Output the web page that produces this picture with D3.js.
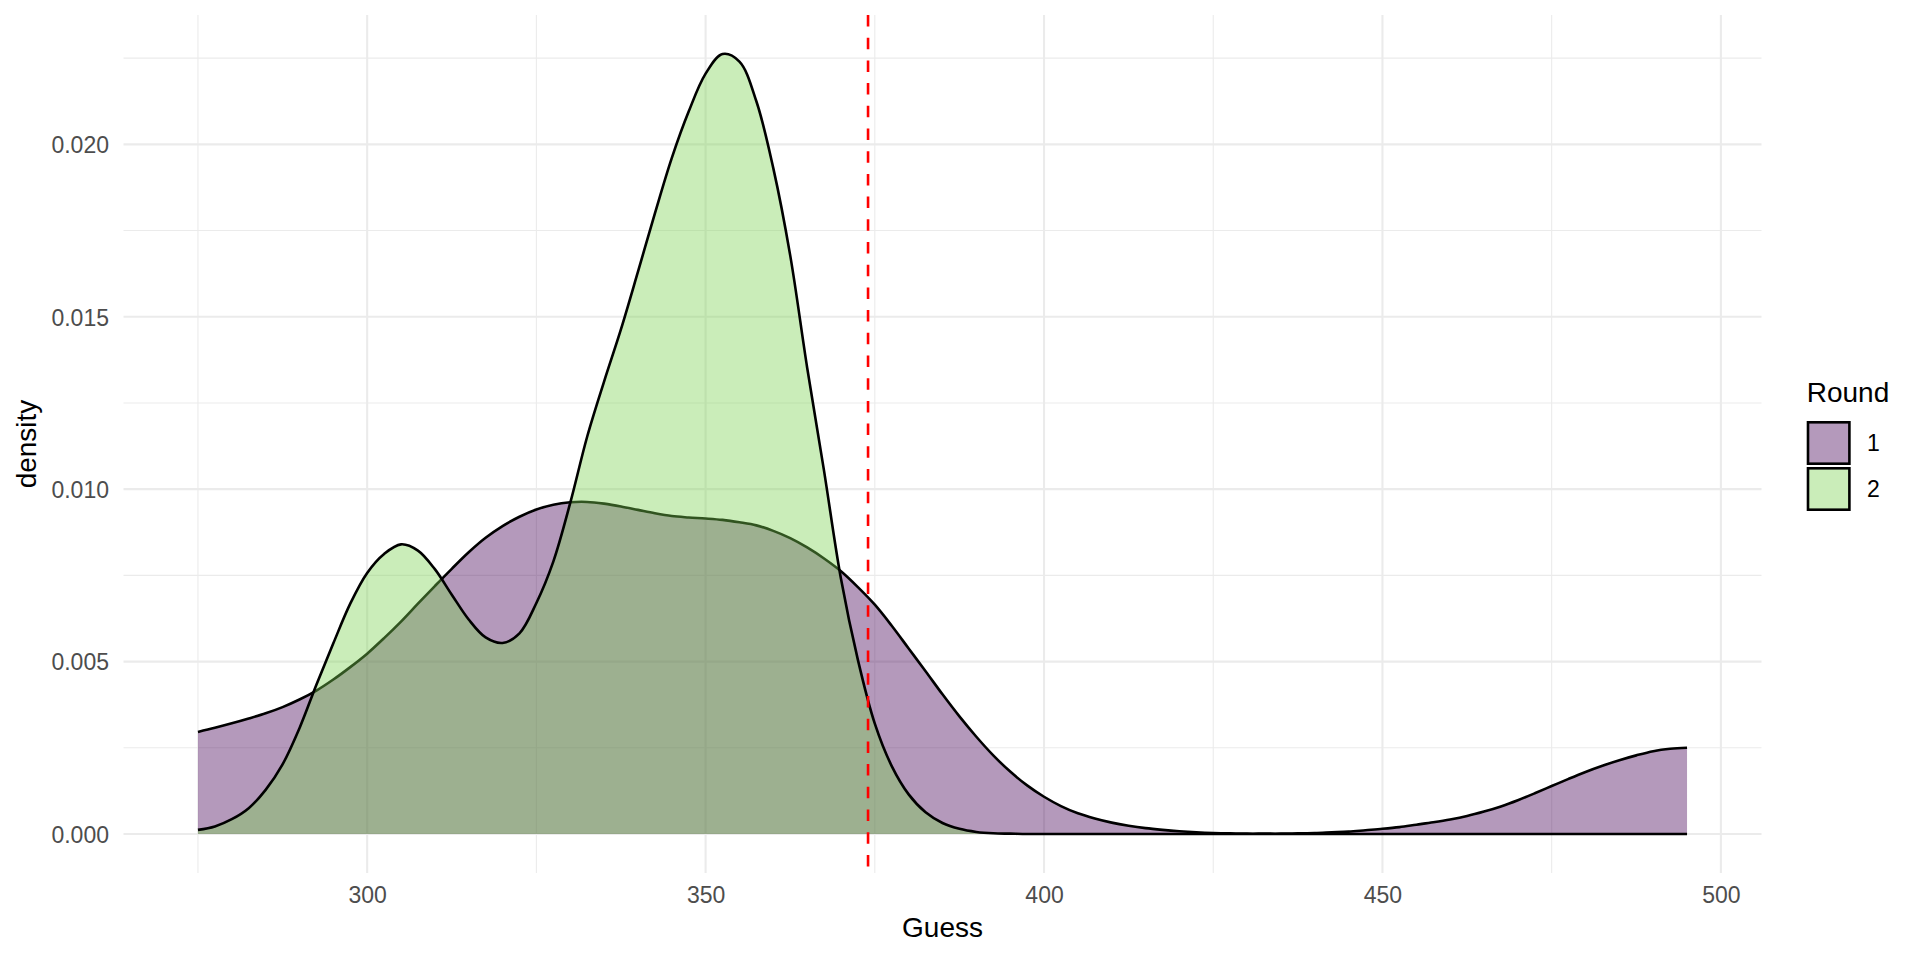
<!DOCTYPE html>
<html>
<head>
<meta charset="utf-8">
<script src="https://cdn.jsdelivr.net/npm/d3@7"></script>
<style>
  body { margin: 0; background: #ffffff; }
  svg text { font-family: "Liberation Sans", Arial, sans-serif; }
</style>
</head>
<body>
<div id="chart"></div>
<script>
// Guess grid (x) shared by both rounds, step 2.5
const guesses = d3.range(275, 495.01, 2.5);

// Round 1 density (purple)
const round1 = [
  0.00296, 0.00308, 0.00321, 0.00335, 0.00350, 0.00368, 0.00390, 0.00416, 0.00448, 0.00484,
  0.00523, 0.00568, 0.00616, 0.00668, 0.00719, 0.00769, 0.00817, 0.00859, 0.00893, 0.00920,
  0.00941, 0.00955, 0.00962, 0.00963, 0.00958, 0.00950, 0.00940, 0.00930, 0.00922, 0.00918,
  0.00915, 0.00911, 0.00904, 0.00895, 0.00879, 0.00858, 0.00831, 0.00799, 0.00762, 0.00716,
  0.00665, 0.00604, 0.00538, 0.00472, 0.00405, 0.00341, 0.00282, 0.00228, 0.00181, 0.00141,
  0.00108, 0.00081, 0.00060, 0.00045, 0.00033, 0.00024, 0.00017, 0.00012, 0.00008, 0.00005,
  0.00003, 0.00002, 0.00001, 0.00001, 0.00001, 0.00002, 0.00003, 0.00005, 0.00007, 0.00011,
  0.00015, 0.00020, 0.00027, 0.00034, 0.00042, 0.00052, 0.00065, 0.00080, 0.00098, 0.00118,
  0.00139, 0.00160, 0.00180, 0.00198, 0.00214, 0.00228, 0.00240, 0.00247, 0.00250
];

// Round 2 density (green)
const round2 = [
  0.00012, 0.00022, 0.00043, 0.00075, 0.00128, 0.00202, 0.00307, 0.00433, 0.00553, 0.00668,
  0.00757, 0.00812, 0.00840, 0.00822, 0.00768, 0.00694, 0.00622, 0.00570, 0.00554, 0.00582,
  0.00670, 0.00790, 0.00960, 0.01152, 0.01312, 0.01464, 0.01630, 0.01799, 0.01960, 0.02095,
  0.02205, 0.02262, 0.02240, 0.02125, 0.01931, 0.01678, 0.01353, 0.01053, 0.00740, 0.00505,
  0.00320, 0.00197, 0.00115, 0.00063, 0.00032, 0.00015, 0.00006, 0.00002, 0.00001, 0.00000,
  0, 0, 0, 0, 0, 0, 0, 0, 0, 0,
  0, 0, 0, 0, 0, 0, 0, 0, 0, 0,
  0, 0, 0, 0, 0, 0, 0, 0, 0, 0,
  0, 0, 0, 0, 0, 0, 0, 0, 0
];

const rounds = ["1", "2"];
const roundColor = { "1": "#440154", "2": "#7AD151" };
const roundValues = { "1": round1, "2": round2 };

const actualValue = 374;        // red dashed line
const xTicks = [300, 350, 400, 450, 500];
const xMinor = [275, 325, 375, 425, 475];
const yTicks = [0, 0.005, 0.01, 0.015, 0.02];
const yMinor = [0.0025, 0.0075, 0.0125, 0.0175, 0.0225];

// ---------------------------------------------------------------------------
// SVG setup
// ---------------------------------------------------------------------------
const W = 1920, H = 960;
const panel = { left: 123.5, right: 1761.5, top: 15, bottom: 873 };

const svg = d3.select("#chart")
  .append("svg")
  .attr("width", W)
  .attr("height", H);

const xRange = [275, 495];
const xPad = (xRange[1] - xRange[0]) * 0.05;
const x = d3.scaleLinear()
  .domain([xRange[0] - xPad, xRange[1] + xPad])
  .range([panel.left, panel.right]);

const yMax = d3.max(round1.concat(round2));
const y = d3.scaleLinear()
  .domain([-0.05 * yMax, 1.05 * yMax])
  .range([panel.bottom, panel.top]);

// ---------------------------------------------------------------------------
// Grid
// ---------------------------------------------------------------------------
const grid = svg.append("g");

grid.selectAll(".ymin").data(yMinor).enter().append("line")
  .attr("x1", panel.left).attr("x2", panel.right)
  .attr("y1", d => y(d)).attr("y2", d => y(d))
  .attr("stroke", "#EBEBEB").attr("stroke-width", 1.1);

grid.selectAll(".xmin").data(xMinor).enter().append("line")
  .attr("y1", panel.top).attr("y2", panel.bottom)
  .attr("x1", d => x(d)).attr("x2", d => x(d))
  .attr("stroke", "#EBEBEB").attr("stroke-width", 1.1);

grid.selectAll(".ymaj").data(yTicks).enter().append("line")
  .attr("x1", panel.left).attr("x2", panel.right)
  .attr("y1", d => y(d)).attr("y2", d => y(d))
  .attr("stroke", "#EBEBEB").attr("stroke-width", 2.1);

grid.selectAll(".xmaj").data(xTicks).enter().append("line")
  .attr("y1", panel.top).attr("y2", panel.bottom)
  .attr("x1", d => x(d)).attr("x2", d => x(d))
  .attr("stroke", "#EBEBEB").attr("stroke-width", 2.1);

// ---------------------------------------------------------------------------
// Densities: round 1 first, round 2 on top
// ---------------------------------------------------------------------------
const area = d3.area()
  .curve(d3.curveCatmullRom.alpha(0.5))
  .x((d, i) => x(guesses[i]))
  .y0(y(0))
  .y1(d => y(d));

const line = d3.line()
  .curve(d3.curveCatmullRom.alpha(0.5))
  .x((d, i) => x(guesses[i]))
  .y(d => y(d));

rounds.forEach(r => {
  const g = svg.append("g");
  g.append("path")
    .datum(roundValues[r])
    .attr("d", area)
    .attr("fill", roundColor[r])
    .attr("fill-opacity", 0.4);
  g.append("path")
    .datum(roundValues[r])
    .attr("d", line)
    .attr("fill", "none")
    .attr("stroke", "#000")
    .attr("stroke-width", 2.6);
});

// red dashed reference line
svg.append("line")
  .attr("x1", x(actualValue)).attr("x2", x(actualValue))
  .attr("y1", panel.top).attr("y2", panel.bottom)
  .attr("stroke", "#FF0000")
  .attr("stroke-width", 2.6)
  .attr("stroke-dasharray", "11.5,11.2");

// ---------------------------------------------------------------------------
// Axes (labels only, theme_minimal)
// ---------------------------------------------------------------------------
const xAxis = svg.append("g")
  .attr("transform", `translate(0, ${panel.bottom})`)
  .call(d3.axisBottom(x).tickValues(xTicks).tickSize(0).tickPadding(0));
xAxis.select(".domain").remove();
xAxis.selectAll("text")
  .attr("y", 30)
  .attr("dy", 0)
  .attr("fill", "#4D4D4D")
  .style("font-size", "23px")
  .style("font-family", "Liberation Sans, Arial, sans-serif");

const yAxis = svg.append("g")
  .attr("transform", `translate(${panel.left}, 0)`)
  .call(d3.axisLeft(y).tickValues(yTicks).tickSize(0).tickFormat(d3.format(".3f")));
yAxis.select(".domain").remove();
yAxis.selectAll("text")
  .attr("x", -14.5)
  .attr("dy", "8.3px")
  .attr("fill", "#4D4D4D")
  .style("font-size", "23px")
  .style("font-family", "Liberation Sans, Arial, sans-serif");

svg.append("text")
  .attr("x", (panel.left + panel.right) / 2)
  .attr("y", 937)
  .attr("text-anchor", "middle")
  .attr("fill", "#000")
  .style("font-size", "28px")
  .text("Guess");

svg.append("text")
  .attr("transform", `translate(35.5, ${(panel.top + panel.bottom) / 2}) rotate(-90)`)
  .attr("text-anchor", "middle")
  .attr("fill", "#000")
  .style("font-size", "28px")
  .text("density");

// ---------------------------------------------------------------------------
// Legend
// ---------------------------------------------------------------------------
const legend = svg.append("g").attr("transform", "translate(1806.7, 0)");

legend.append("text")
  .attr("x", 0).attr("y", 401.7)
  .attr("fill", "#000")
  .style("font-size", "28px")
  .text("Round");

const keyTop = [421, 467];
rounds.forEach((r, i) => {
  legend.append("rect")
    .attr("x", 1.3).attr("y", keyTop[i] + 1.3)
    .attr("width", 41.4).attr("height", 41.4)
    .attr("fill", roundColor[r])
    .attr("fill-opacity", 0.4)
    .attr("stroke", "#000")
    .attr("stroke-width", 2.6);
  legend.append("text")
    .attr("x", 60.3)
    .attr("y", keyTop[i] + 22 + 8.3)
    .attr("fill", "#000")
    .style("font-size", "23px")
    .text(r);
});
</script>
</body>
</html>
